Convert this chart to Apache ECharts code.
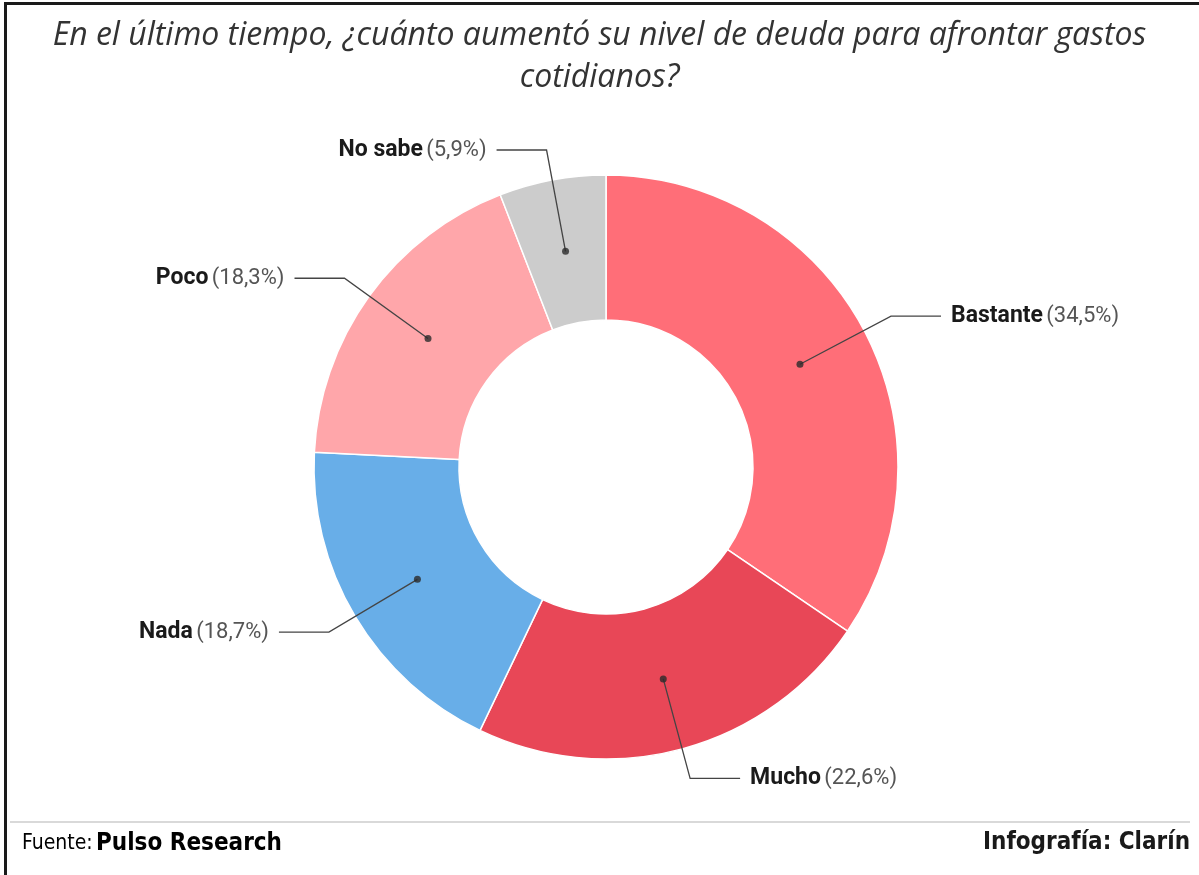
<!DOCTYPE html>
<html>
<head>
<meta charset="utf-8">
<script src="https://cdn.jsdelivr.net/npm/echarts@6/dist/echarts.min.js"></script>
<style>
    html, body {margin: 0; padding: 0; background: #fff;}
    #chart {position: absolute; left: 0; top: 0; width: 1199px; height: 875px;}
    #marco {position: absolute; left: 4px; top: 2px; width: 1195px; height: 873px;
        border-top: 3px solid #1a1a1a; border-left: 3px solid #1a1a1a; box-sizing: border-box; pointer-events: none;}
</style>
</head>
<body>
<div id="chart"></div>
<div id="marco"></div>
<script>
// datos de la encuesta (sentido horario desde arriba)
var aCategorias = ['Bastante', 'Mucho', 'Nada', 'Poco', 'No sabe'];
var aValores = [34.5, 22.6, 18.7, 18.3, 5.9];
var aColores = ['#ff6e78', '#e84757', '#68aee8', '#ffa6aa', '#cccccc'];

var aCentro = [606, 467];
var iRadioInt = 147, iRadioExt = 292;
var iRadioMedio = (iRadioInt + iRadioExt) / 2;
var sFuenteCond = '"DejaVu Sans Condensed", "Liberation Sans Narrow", Roboto, sans-serif';

function ArmarDatos(bColor) {
    var aData = [];
    for (var i = 0; i < aCategorias.length; i++) {
        var jItem = {name: aCategorias[i], value: aValores[i]};
        if (bColor) {
            jItem.itemStyle = {color: aColores[i]};
        }
        aData.push(jItem);
    }
    return aData;
}

// puntos negros en el medio de cada porción
function ArmarPuntos() {
    var aPuntos = [];
    var fAcum = 0;
    var fTotal = aValores.reduce(function (a, b) { return a + b; }, 0);
    for (var i = 0; i < aValores.length; i++) {
        aPuntos.push([iRadioMedio, (fAcum + aValores[i] / 2) / fTotal * 100]);
        fAcum += aValores[i];
    }
    return aPuntos;
}

var jOption = {
    animation: false,
    title: {
        text: 'En el último tiempo, ¿cuánto aumentó su nivel de deuda para afrontar gastos\ncotidianos?',
        left: 'center',
        top: 10,
        textStyle: {
            fontFamily: 'Open Sans',
            fontStyle: 'italic',
            fontWeight: 'normal',
            fontSize: 32,
            lineHeight: 42,
            color: '#333'
        }
    },
    polar: {center: aCentro, radius: iRadioExt},
    angleAxis: {type: 'value', min: 0, max: 100, startAngle: 90, clockwise: true, show: false},
    radiusAxis: {type: 'value', min: 0, max: iRadioExt, show: false},
    graphic: [
        {type: 'line', shape: {x1: 10, y1: 822, x2: 1190, y2: 822}, style: {stroke: '#d9d9d9', lineWidth: 2}},
        {
            type: 'text', left: 22, top: 832,
            style: {
                text: '{f|Fuente:} {p|Pulso Research}',
                rich: {
                    f: {fontFamily: sFuenteCond, fontSize: 21, color: '#777'},
                    p: {fontFamily: sFuenteCond, fontSize: 24, fontWeight: 'bold', color: '#1a1a1a'}
                }
            }
        },
        {
            type: 'text', right: 9, top: 831,
            style: {
                text: 'Infografía: Clarín',
                fontFamily: sFuenteCond, fontSize: 24, fontWeight: 'bold', fill: '#1a1a1a'
            }
        }
    ],
    series: [
        {
            name: 'deuda',
            type: 'pie',
            z: 2,
            silent: true,
            center: aCentro,
            radius: [iRadioInt, iRadioExt],
            startAngle: 90,
            clockwise: true,
            label: {show: false},
            labelLine: {show: false},
            itemStyle: {borderColor: '#fff', borderWidth: 1.5},
            data: ArmarDatos(true)
        },
        {
            name: 'etiquetas',
            type: 'pie',
            z: 3,
            silent: true,
            center: aCentro,
            radius: [0, iRadioMedio],
            startAngle: 90,
            clockwise: true,
            itemStyle: {color: 'rgba(0,0,0,0)'},
            label: {
                position: 'outside',
                alignTo: 'labelLine',
                distanceToLabelLine: 10,
                formatter: function (p) {
                    return '{n|' + p.name + '} {v|(' + String(p.value).replace('.', ',') + '%)}';
                },
                rich: {
                    n: {fontFamily: 'Roboto', fontWeight: 'bold', fontSize: 23, color: '#1a1a1a'},
                    v: {fontFamily: 'Roboto', fontSize: 22, color: '#555'}
                }
            },
            labelLine: {
                show: true,
                length: 103,
                length2: 50,
                lineStyle: {color: '#444', width: 1.3}
            },
            data: ArmarDatos(false)
        },
        {
            name: 'puntos',
            type: 'scatter',
            z: 4,
            silent: true,
            coordinateSystem: 'polar',
            symbolSize: 7,
            itemStyle: {color: '#2b2b2b'},
            data: ArmarPuntos()
        }
    ]
};

var myChart = echarts.init(document.getElementById('chart'));
myChart.setOption(jOption);
</script>
</body>
</html>
